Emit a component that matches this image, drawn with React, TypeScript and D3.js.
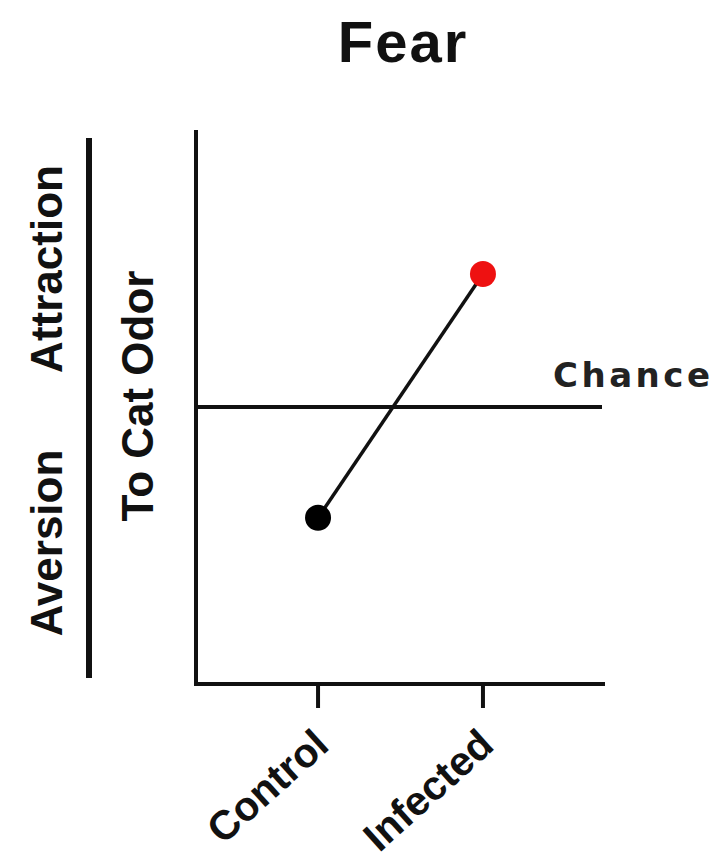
import React from "react";
import * as d3 from "d3";

const categories = ["Control", "Infected"];
const values = [30, 74];
const pointColors = ["#000000", "#ee1111"];
const chanceValue = 50;
const yDomain = [0, 100];
const title = "Fear";
const chanceLabel = "Chance";
const leftTop = "Attraction";
const leftBottom = "Aversion";
const yLabel = "To Cat Odor";

const W = 721;
const H = 863;
const plotLeft = 196;
const plotRight = 605;
const plotTop = 130;
const plotBottom = 684;

export default function App() {
  const y = d3.scaleLinear().domain(yDomain).range([plotBottom, plotTop]);
  const x = d3.scaleLinear().domain([-0.74, 1.74]).range([plotLeft, plotRight]);
  const pts = categories.map((c, i) => ({ c, i, v: values[i] }));
  const line = d3
    .line<{ i: number; v: number }>()
    .x((d) => x(d.i))
    .y((d) => y(d.v));
  const font = "'Liberation Sans', Arial, sans-serif";
  const chanceY = y(chanceValue);
  return (
    <div style={{ position: "absolute", left: 0, top: 0 }}>
      <svg width={W} height={H} style={{ display: "block", background: "#fff" }}>
        <text x={403} y={62} textAnchor="middle" fontFamily={font} fontWeight="bold" fontSize={58} letterSpacing={2} fill="#111">
          {title}
        </text>
        {/* left separator bar */}
        <line x1={89} x2={89} y1={138} y2={678} stroke="#111" strokeWidth={6} />
        <text transform={`translate(62,${269}) rotate(-90)`} textAnchor="middle" fontFamily={font} fontWeight="bold" fontSize={44} fill="#111">
          {leftTop}
        </text>
        <text transform={`translate(62,${543}) rotate(-90)`} textAnchor="middle" fontFamily={font} fontWeight="bold" fontSize={44} fill="#111">
          {leftBottom}
        </text>
        <text transform={`translate(153,${396}) rotate(-90)`} textAnchor="middle" fontFamily={font} fontWeight="bold" fontSize={44} fill="#111">
          {yLabel}
        </text>
        {/* axes */}
        <line x1={plotLeft} x2={plotLeft} y1={plotTop} y2={plotBottom + 2} stroke="#111" strokeWidth={4} />
        <line x1={plotLeft - 2} x2={plotRight} y1={plotBottom} y2={plotBottom} stroke="#111" strokeWidth={4} />
        {/* chance line */}
        <line x1={plotLeft} x2={plotRight - 3} y1={chanceY} y2={chanceY} stroke="#111" strokeWidth={4} />
        <text x={553} y={387} fontFamily="'DejaVu Sans', sans-serif" fontWeight="bold" fontSize={34} letterSpacing={3.5} fill="#222">
          {chanceLabel}
        </text>
        {/* ticks & labels */}
        {pts.map((p) => (
          <g key={p.c}>
            <line x1={x(p.i)} x2={x(p.i)} y1={plotBottom} y2={plotBottom + 24} stroke="#111" strokeWidth={4} />
            <text
              transform={`translate(${x(p.i) + 13},${plotBottom + 64}) rotate(-42)`}
              textAnchor="end"
              fontFamily={font}
              fontWeight="bold"
              fontSize={41}
              fill="#111"
            >
              {p.c}
            </text>
          </g>
        ))}
        <path d={line(pts) || ""} fill="none" stroke="#111" strokeWidth={3.5} />
        {pts.map((p, i) => (
          <circle key={p.c} cx={x(p.i)} cy={y(p.v)} r={13} fill={pointColors[i]} />
        ))}
      </svg>
    </div>
  );
}
